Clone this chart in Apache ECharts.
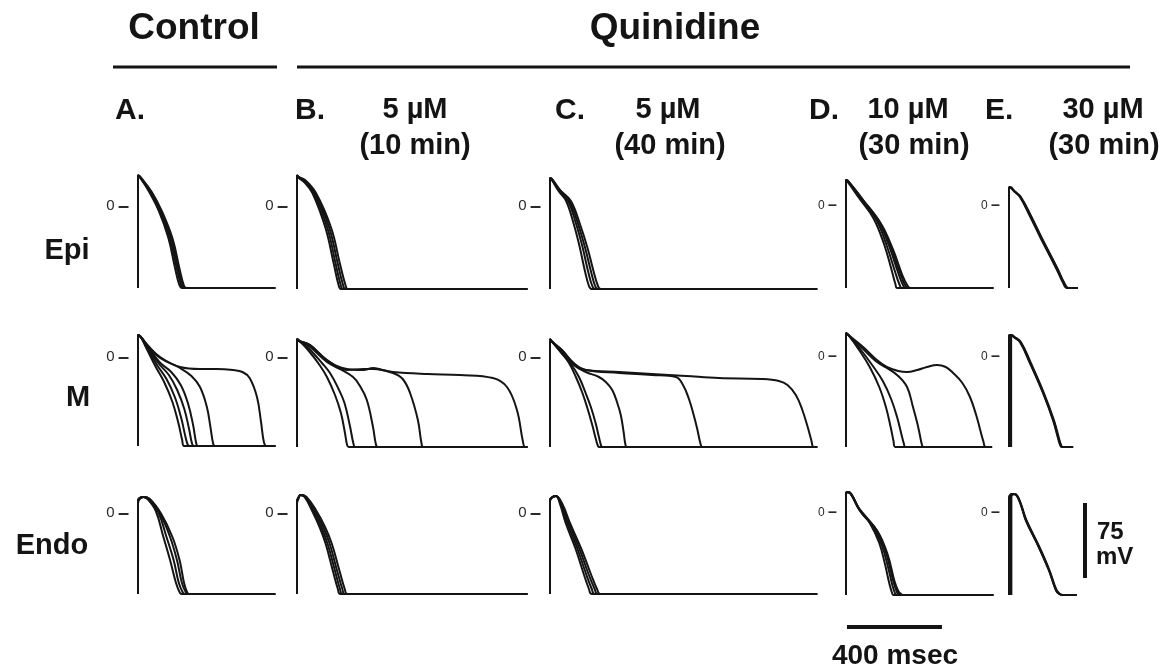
<!DOCTYPE html>
<html>
<head>
<meta charset="utf-8">
<script src="https://cdn.jsdelivr.net/npm/echarts@6/dist/echarts.min.js"></script>
<style>
  html, body { margin: 0; padding: 0; background: #fff; }
  #chart { width: 1175px; height: 671px; }
</style>
</head>
<body>
<div id="chart"></div>
<script>
// Action potentials, [time (ms), membrane potential (mV)], one list per recording.
const epiA = [
  [[0,-82],[0,30],[10,28],[45,15],[88,-5],[128,-32],[156,-62],[174,-79],[186,-82],[578,-82]],
  [[0,-82],[0,30],[10,28],[50,14],[93,-6],[135,-33],[164,-63],[183,-80],[195,-82],[578,-82]],
  [[0,-82],[0,31],[10,29],[55,14],[98,-6],[141,-33],[170,-63],[190,-80],[202,-82],[578,-82]],
  [[0,-82],[0,31],[10,29],[58,14],[102,-6],[146,-33],[175,-63],[194,-80],[206,-82],[578,-82]]
];
const epiB = [
  [[0,-83],[0,30],[8,28],[30,24],[65,13],[120,-22],[155,-58],[175,-79],[185,-83],[970,-83]],
  [[0,-83],[0,30],[8,28],[30,25],[70,13],[128,-22],[163,-58],[184,-79],[194,-83],[970,-83]],
  [[0,-83],[0,31],[8,29],[32,25],[75,13],[136,-22],[172,-58],[194,-79],[204,-83],[970,-83]],
  [[0,-83],[0,31],[8,29],[34,26],[80,13],[144,-22],[181,-58],[204,-79],[214,-83],[970,-83]]
];
const epiC = [
  [[0,-83],[0,28],[8,26],[36,15],[68,5],[100,-18],[126,-42],[147,-65],[164,-80],[175,-83],[1125,-83]],
  [[0,-83],[0,28],[8,26],[40,15],[76,5],[110,-18],[138,-42],[160,-65],[178,-80],[190,-83],[1125,-83]],
  [[0,-83],[0,28],[8,27],[43,15],[82,5],[118,-18],[148,-42],[172,-65],[190,-80],[202,-83],[1125,-83]],
  [[0,-83],[0,28],[8,27],[46,15],[88,5],[126,-18],[158,-42],[183,-65],[202,-80],[214,-83],[1125,-83]]
];
const epiD = [
  [[0,-82],[0,26],[8,24],[55,8],[115,-12],[160,-38],[192,-64],[208,-78],[216,-82],[620,-82]],
  [[0,-82],[0,26],[8,24],[62,7],[128,-14],[172,-40],[207,-66],[226,-79],[236,-82],[620,-82]],
  [[0,-82],[0,26],[8,25],[68,6],[138,-16],[183,-41],[220,-67],[240,-79],[250,-82],[620,-82]],
  [[0,-82],[0,26],[8,25],[72,6],[143,-17],[190,-42],[229,-68],[251,-80],[262,-82],[620,-82]],
  [[0,-82],[0,26],[8,25],[75,5],[148,-18],[197,-43],[237,-69],[260,-80],[272,-82],[620,-82]]
];
const epiE = [
  [[0,-82],[0,18],[6,18],[20,15],[46,9],[90,-11],[131,-31],[170,-49],[202,-64],[228,-77],[244,-82],[290,-82]],
  [[0,-82],[0,19],[6,19],[22,15],[50,9],[95,-11],[136,-31],[175,-49],[207,-64],[233,-77],[250,-82],[290,-82]],
  [[0,-82],[0,18],[6,18],[22,15],[48,9],[92,-11],[134,-31],[173,-49],[205,-64],[231,-77],[247,-82],[290,-82]]
];

const midA = [
  [[0,-89],[0,22],[12,20],[35,9],[75,-10],[110,-25],[145,-45],[170,-66],[186,-83],[194,-89],[578,-89]],
  [[0,-89],[0,22],[12,20],[35,10],[80,-8],[120,-22],[155,-40],[182,-61],[200,-80],[210,-88],[218,-89],[578,-89]],
  [[0,-89],[0,22],[12,20],[36,11],[85,-6],[130,-18],[165,-33],[195,-52],[215,-72],[228,-87],[236,-89],[578,-89]],
  [[0,-89],[0,22],[12,20],[37,12],[90,-5],[140,-15],[180,-28],[210,-46],[232,-68],[245,-86],[252,-89],[578,-89]],
  [[0,-89],[0,22],[12,20],[40,11],[93,-1],[177,-11],[225,-19],[261,-30],[290,-50],[305,-70],[316,-86],[324,-89],[578,-89]],
  [[0,-89],[0,22],[12,20],[40,12],[93,0],[177,-10],[261,-12],[330,-12],[400,-13],[440,-15],[470,-21],[501,-40],[518,-65],[530,-85],[540,-89],[578,-89]]
];
const midB = [
  [[0,-90],[0,18],[10,16],[50,6],[95,-8],[126,-20],[160,-38],[185,-56],[202,-76],[211,-88],[218,-90],[970,-90]],
  [[0,-90],[0,18],[10,16],[52,8],[105,-6],[139,-16],[175,-32],[200,-46],[222,-68],[238,-87],[245,-90],[970,-90]],
  [[0,-90],[0,18],[10,16],[55,10],[126,-5],[180,-12],[236,-20],[265,-29],[294,-43],[320,-70],[332,-87],[340,-90],[970,-90]],
  [[0,-90],[0,18],[10,16],[55,12],[126,-3],[210,-13],[280,-12],[320,-12],[404,-16],[445,-22],[476,-36],[509,-63],[524,-86],[532,-90],[970,-90]],
  [[0,-90],[0,18],[10,16],[55,12],[126,-3],[210,-12],[280,-13],[320,-11],[360,-13],[404,-15],[550,-17],[686,-18],[825,-21],[884,-30],[926,-53],[950,-83],[960,-90],[970,-90]]
];
const midC = [
  [[0,-90],[0,18],[10,15],[45,5],[80,-6],[109,-20],[135,-35],[156,-50],[178,-68],[193,-82],[202,-89],[208,-90],[1125,-90]],
  [[0,-90],[0,18],[10,15],[45,5],[85,-6],[122,-20],[150,-36],[172,-50],[192,-66],[206,-80],[216,-89],[222,-90],[1125,-90]],
  [[0,-90],[0,18],[10,15],[50,6],[100,-8],[151,-15],[206,-20],[235,-25],[262,-33],[282,-45],[298,-58],[310,-75],[318,-88],[324,-90],[1125,-90]],
  [[0,-90],[0,18],[10,15],[50,7],[100,-7],[151,-13],[291,-16],[429,-18],[530,-20],[560,-28],[585,-42],[605,-58],[620,-72],[634,-87],[642,-90],[1125,-90]],
  [[0,-90],[0,18],[10,15],[50,7],[100,-6],[151,-13],[291,-15],[429,-17],[572,-19],[711,-21],[890,-22],[964,-24],[1000,-28],[1035,-38],[1061,-52],[1085,-70],[1100,-83],[1110,-90],[1125,-90]]
];
const midD = [
  [[0,-90],[0,24],[10,22],[55,7],[100,-10],[140,-30],[168,-50],[188,-70],[200,-84],[207,-90],[615,-90]],
  [[0,-90],[0,24],[10,22],[60,8],[110,-8],[155,-24],[190,-42],[215,-60],[232,-76],[244,-87],[250,-90],[615,-90]],
  [[0,-90],[0,24],[10,22],[68,9],[125,-4],[172,-11],[215,-18],[257,-30],[282,-50],[300,-66],[311,-78],[320,-88],[326,-90],[615,-90]],
  [[0,-90],[0,24],[10,22],[72,10],[130,-3],[172,-10],[220,-14],[257,-15],[300,-13],[341,-10],[383,-8],[420,-10],[451,-16],[490,-26],[522,-40],[548,-58],[564,-72],[578,-84],[588,-90],[615,-90]]
];
const midE = [
  [[0,-90],[0,22],[6,22],[20,20],[46,15],[88,-6],[143,-36],[185,-63],[205,-80],[215,-88],[222,-90],[270,-90]],
  [[4,-90],[4,22],[10,22],[24,20],[50,15],[92,-6],[147,-36],[189,-63],[209,-80],[219,-88],[226,-90],[270,-90]],
  [[9,-90],[9,20],[14,21],[26,19],[50,14],[91,-7],[146,-37],[188,-64],[208,-81],[218,-88],[225,-90],[270,-90]]
];

const endoA = [
  [[0,-81],[0,10],[6,14],[22,16],[40,14],[75,2],[107,-24],[135,-47],[160,-70],[177,-80],[186,-81],[578,-81]],
  [[0,-81],[0,10],[6,14],[22,16],[44,14],[85,1],[120,-24],[150,-47],[172,-70],[190,-80],[198,-81],[578,-81]],
  [[0,-81],[0,12],[6,15],[24,16],[48,14],[92,0],[135,-24],[164,-47],[185,-70],[203,-80],[212,-81],[578,-81]],
  [[0,-81],[0,12],[6,15],[24,16],[50,14],[98,-1],[145,-24],[175,-47],[194,-70],[208,-80],[216,-81],[578,-81]]
];
const endoB = [
  [[0,-81],[0,10],[5,14],[15,18],[32,16],[64,2],[95,-14],[121,-31],[150,-57],[172,-76],[182,-81],[970,-81]],
  [[0,-81],[0,10],[5,14],[15,18],[35,16],[70,2],[102,-14],[129,-31],[159,-57],[181,-76],[191,-81],[970,-81]],
  [[0,-81],[0,12],[5,15],[15,18],[38,16],[76,2],[110,-14],[138,-31],[168,-57],[191,-76],[201,-81],[970,-81]],
  [[0,-81],[0,12],[5,15],[15,18],[40,16],[82,2],[118,-14],[147,-31],[178,-57],[201,-76],[212,-81],[970,-81]]
];
const endoC = [
  [[0,-81],[0,12],[5,15],[25,17],[42,9],[66,-10],[108,-36],[142,-61],[164,-76],[176,-81],[1125,-81]],
  [[0,-81],[0,12],[5,15],[25,17],[46,8],[72,-10],[116,-36],[152,-61],[176,-76],[188,-81],[1125,-81]],
  [[0,-81],[0,12],[5,15],[25,17],[50,8],[78,-10],[124,-36],[162,-61],[188,-76],[200,-81],[1125,-81]],
  [[0,-81],[0,12],[5,15],[25,17],[54,8],[84,-10],[132,-36],[172,-61],[198,-76],[212,-81],[1125,-81]]
];
const endoD = [
  [[0,-82],[0,18],[6,21],[20,19],[50,6],[100,-10],[140,-30],[165,-52],[182,-70],[194,-80],[200,-82],[620,-82]],
  [[0,-82],[0,18],[6,21],[20,19],[54,5],[110,-12],[152,-33],[178,-55],[195,-72],[206,-80],[212,-82],[620,-82]],
  [[0,-82],[0,18],[6,21],[22,19],[57,3],[120,-14],[164,-36],[190,-58],[207,-74],[218,-81],[224,-82],[620,-82]],
  [[0,-82],[0,18],[6,21],[22,19],[60,2],[128,-17],[170,-40],[198,-67],[214,-77],[226,-81],[232,-82],[620,-82]],
  [[0,-82],[0,18],[6,21],[22,19],[62,1],[132,-18],[176,-42],[204,-68],[220,-78],[232,-81],[238,-82],[620,-82]]
];
const endoE = [
  [[0,-82],[0,16],[4,18],[20,19],[34,17],[50,8],[71,-7],[126,-34],[168,-57],[198,-77],[212,-81],[225,-82],[285,-82]],
  [[5,-82],[5,17],[10,19],[22,19],[36,17],[52,8],[73,-7],[128,-34],[170,-57],[200,-77],[214,-81],[227,-82],[285,-82]],
  [[10,-82],[10,16],[14,18],[24,19],[36,16],[52,7],[72,-8],[127,-35],[169,-58],[199,-78],[213,-81],[226,-82],[285,-82]]
];

// Calibration bars (data units): 400 ms and 75 mV
const timeBar = [[4,-114],[404,-114]];
const voltBar = [[320,10],[320,-65]];

const rowNames = ['Epi', 'M', 'Endo'];
const panelLetters = ['A.', 'B.', 'C.', 'D.', 'E.'];
const doses = ['', '5 µM', '5 µM', '10 µM', '30 µM'];
const exposures = ['', '(10 min)', '(40 min)', '(30 min)', '(30 min)'];
const zeroMark = [0];

const traces = [
  [epiA, epiB, epiC, epiD, epiE],
  [midA, midB, midC, midD, midE],
  [endoA, endoB, endoC, endoD, endoE]
];

// Layout: every panel shares one time and voltage scale
const pxPerMs = 0.2375;
const pxPerMv = 1;
const vMin = -100, vMax = 40;
const colLeft = [138, 297, 550, 846, 1009];
const colSpan = [578, 970, 1125, 620, 340];
const rowZero = [206, 357, 513];
const zeroFont = [15, 15, 15, 12, 12];
const rowLabelX = [67, 78, 52];
const rowLabelY = [251, 398, 546];

const grids = [], xAxes = [], yAxes = [], series = [];
const ink = '#141414';

for (let r = 0; r < 3; r++) {
  for (let c = 0; c < 5; c++) {
    const idx = grids.length;
    grids.push({
      left: colLeft[c],
      top: rowZero[r] - vMax * pxPerMv,
      width: colSpan[c] * pxPerMs,
      height: (vMax - vMin) * pxPerMv
    });
    xAxes.push({ gridIndex: idx, type: 'value', min: 0, max: colSpan[c], show: false });
    const fs = zeroFont[c];
    yAxes.push({
      gridIndex: idx, type: 'value', min: vMin, max: vMax, position: 'left',
      axisLine: { show: false },
      splitLine: { show: false },
      axisTick: { show: false },
      axisLabel: {
        show: true, customValues: zeroMark, margin: 9,
        formatter: v => '{z|' + v + '} {d|–}',
        rich: {
          z: { fontFamily: 'Liberation Sans', fontSize: fs, color: '#2a2a2a', lineHeight: 20, verticalAlign: 'middle' },
          d: { fontFamily: 'Liberation Sans', fontWeight: 'bold', fontSize: Math.round(fs * 1.35), color: '#2a2a2a', lineHeight: 20, verticalAlign: 'middle' }
        }
      }
    });
    traces[r][c].forEach(tr => {
      series.push({
        type: 'line', xAxisIndex: idx, yAxisIndex: idx, data: tr,
        symbol: 'none', smooth: 0.4, clip: false, silent: true,
        lineStyle: { color: ink, width: 2 }
      });
    });
  }
}

// 400 ms bar under panel D (Endo), 75 mV bar beside panel E (Endo)
series.push({
  type: 'line', xAxisIndex: 13, yAxisIndex: 13, data: timeBar, symbol: 'none',
  clip: false, silent: true, lineStyle: { color: ink, width: 4, cap: 'butt' }
});
series.push({
  type: 'line', xAxisIndex: 14, yAxisIndex: 14, data: voltBar, symbol: 'none',
  clip: false, silent: true, lineStyle: { color: ink, width: 4, cap: 'butt' }
});

function label(text, x, y, size, align) {
  return {
    type: 'text', x: x, y: y, silent: true,
    style: {
      text: text, fill: ink,
      font: 'bold ' + size + 'px "Liberation Sans", Arial, sans-serif',
      align: align || 'center', verticalAlign: 'middle',
      textAlign: align || 'center', textVerticalAlign: 'middle'
    }
  };
}

const graphic = [
  label('Control', 194, 29, 37),
  label('Quinidine', 675, 29, 37),
  { type: 'line', silent: true, shape: { x1: 113, y1: 67, x2: 277, y2: 67 }, style: { stroke: ink, lineWidth: 3 } },
  { type: 'line', silent: true, shape: { x1: 297, y1: 67, x2: 1130, y2: 67 }, style: { stroke: ink, lineWidth: 3 } },
  label('75', 1097, 532, 24, 'left'),
  label('mV', 1096, 557, 24, 'left'),
  label('400 msec', 895, 656, 28)
];
for (let r = 0; r < 3; r++) {
  graphic.push(label(rowNames[r], rowLabelX[r], rowLabelY[r], 29));
}

const letterX = [115, 295, 555, 809, 985];
const doseX = [0, 415, 668, 908, 1103];
const expoX = [0, 415, 670, 914, 1104];
for (let c = 0; c < 5; c++) {
  graphic.push(label(panelLetters[c], letterX[c], 111, 30, 'left'));
  if (doses[c]) {
    graphic.push(label(doses[c], doseX[c], 110, 29));
    graphic.push(label(exposures[c], expoX[c], 146, 29));
  }
}

const chart = echarts.init(document.getElementById('chart'), null, { renderer: 'canvas' });
chart.setOption({
  animation: false,
  backgroundColor: '#fff',
  grid: grids,
  xAxis: xAxes,
  yAxis: yAxes,
  series: series,
  graphic: graphic
});
</script>
</body>
</html>
